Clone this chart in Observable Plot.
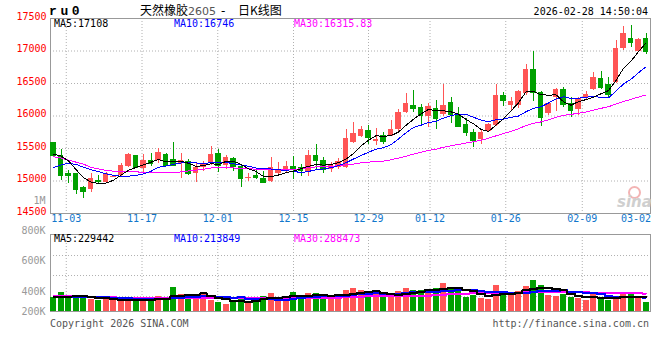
<!DOCTYPE html>
<html><head><meta charset="utf-8">
<script src="https://cdn.jsdelivr.net/npm/d3@7"></script>
<script src="https://cdn.jsdelivr.net/npm/@observablehq/plot@0.6"></script>
<style>
body{margin:0;background:#fff;}
#wrap{position:relative;width:660px;height:360px;overflow:hidden;background:#fff;font-family:"DejaVu Sans Mono",monospace;}
.abs{position:absolute;white-space:nowrap;line-height:1;}
.mono{font-family:"DejaVu Sans Mono",monospace;font-size:10px;}
#mainBox,#volBox{position:absolute;left:0;}
#mainBox{top:0;} #volBox{top:190px;}
</style></head><body>
<div id="wrap">
  <div id="mainBox"></div>
  <div id="volBox"></div>
  <div class="abs" id="code" style="left:49px;top:4px;font:bold 13px 'Liberation Mono',monospace;letter-spacing:3.6px;color:#000;"></div>
  <div class="abs" id="t1" style="left:140px;top:4px;font-size:12px;font-family:'Noto Sans CJK SC';color:#000;"></div>
  <div class="abs" id="t2" style="left:188px;top:6px;font-size:11px;font-family:'DejaVu Sans';color:#555;"></div>
  <div class="abs" style="left:221px;top:5px;font-size:12px;font-family:'DejaVu Sans';color:#000;">-</div>
  <div class="abs" id="t3" style="left:238px;top:4px;font-size:12px;font-family:'Noto Sans CJK SC';color:#000;"></div>
  <div class="abs mono" id="stamp" style="right:12px;top:7px;color:#000;"></div>
  <div class="abs mono" id="lg5" style="left:54px;top:19px;color:#000;"></div>
  <div class="abs mono" id="lg10" style="left:174px;top:19px;color:#0000ff;"></div>
  <div class="abs mono" id="lg30" style="left:294px;top:19px;color:#ff00ff;"></div>
  <div class="abs mono" id="vlg5" style="left:54px;top:234px;color:#000;"></div>
  <div class="abs mono" id="vlg10" style="left:174px;top:234px;color:#0000ff;"></div>
  <div class="abs mono" id="vlg30" style="left:294px;top:234px;color:#ff00ff;"></div>
  <div class="abs mono" id="copy" style="left:50px;top:319px;color:#555;"></div>
  <div class="abs mono" id="url" style="right:11px;top:319px;color:#555;"></div>
  <div class="abs" style="left:628px;top:186px;width:9px;height:9px;border:2px solid #f3b4b4;border-radius:50%;"></div>
  <div class="abs" id="wm" style="left:617px;top:193px;font:italic bold 15px 'DejaVu Sans';color:#cfcfcf;"></div>
</div>
<script>
// ---------- data ----------
const opens = [15595,15400,15118,15108,14905,14862,15015,14974,15060,15082,
15220,15385,15195,15323,15312,15415,15333,15262,15297,15118,
15205,15272,15426,15246,15350,15220,15050,15092,15041,14989,
15118,15143,15220,15205,15143,15385,15323,15180,15211,15215,
15589,15682,15770,15610,15705,15692,15785,16051,16158,16128,
15990,16118,16026,16210,16015,15862,15749,15631,15758,15851,
16308,16169,16169,16349,16723,16354,16046,16277,16405,16185,
16097,16266,16405,16570,16482,16518,17031,17200,16995,17189];
const highs = [15600,15477,15169,15120,14910,15118,15082,15128,15085,15272,
15426,15400,15415,15426,15503,15426,15590,15426,15338,15272,
15297,15528,15477,15385,15360,15235,15118,15169,15143,15358,
15288,15297,15374,15257,15466,15554,15364,15282,15350,15800,
15897,15835,15860,15810,15740,15938,16103,16349,16400,16170,
16195,16246,16492,16282,16128,15965,15800,15770,15888,16488,
16358,16282,16400,16795,16995,16370,16215,16420,16431,16277,
16277,16380,16662,16688,16595,17165,17380,17400,17185,17262];
const lows = [15390,15015,14965,14795,14725,14826,14954,14954,15050,15066,
15210,15195,15128,15220,15272,15230,15230,15041,15092,14980,
15143,15246,15128,15180,15143,14897,15000,15030,14965,14980,
15092,15118,15026,15066,15066,15180,15118,15128,15180,15200,
15580,15672,15554,15540,15554,15680,15760,16040,16051,15835,
15820,15785,15990,15888,15820,15682,15512,15565,15750,15835,
16143,16092,16118,16323,16226,15842,16011,16062,16134,15980,
16011,16250,16390,16405,16277,16497,17005,17057,16985,16943];
const closes = [15400,15082,15092,14862,14835,15042,14985,15118,15075,15235,
15411,15205,15323,15272,15441,15235,15246,15323,15118,15211,
15272,15415,15246,15365,15220,15041,15056,15051,14974,15211,
15169,15230,15180,15154,15400,15308,15180,15235,15297,15657,
15734,15785,15666,15640,15605,15795,16057,16185,16108,16015,
16143,15965,16169,16026,15835,15743,15620,15749,15862,16323,
16235,16220,16374,16708,16354,15980,16185,16405,16174,16082,
16262,16338,16585,16442,16328,17046,17266,17134,17174,16995];
// volume in thousands of lots
const volumesK = [225,298,209,236,236,188,173,188,188,188,
188,173,199,173,241,188,382,267,251,236,
283,173,147,110,136,236,136,199,236,283,
199,199,298,199,283,283,251,225,225,330,
366,330,293,262,225,225,314,366,330,330,
330,366,440,345,345,225,251,209,188,408,
293,251,314,393,487,408,251,241,267,225,
209,173,277,209,173,241,262,262,225,147];
// moving-average values before a full window is visible
const ma5Head = [15415,15385,15310,15175];
const ma10Head = [15205,15246,15272,15256,15210,15174,15143,15112,15087];
const ma30Head = [15374,15355,15320,15290,15260,15210,15185,15165,15150,15143,15140,15140,15135,15130,15128,15128,15125,15140,15155,15168,15180,15200,15205,15205,15200,15195,15190,15180,15172];
const volMa5HeadK = [228,232,235,238];
const volMa10HeadK = [230,232,233,232,230,228,225,222,218];
const volMa30HeadK = [236,236,236,236,236,231,226,222,220,218,216,214,212,210,209,208,208,209,210,211,212,212,211,210,210,210,211,212,212];
// axes
const priceTicks = [17500,17000,16500,16000,15500,15000,14500];
const priceGrid = [17000,16500,16000,15500,15000];
const dateTickPos = [1.7,11.8,21.9,32,42,50.2,60.3,70.5];
const dateTickLabels = ["11-03","11-17","12-01","12-15","12-29","01-12","01-26","02-09"];
const lastDateLabel = "03-02";
const volTickValues = [1743000,1272000,801000,314000,0];
const volTickLabels = ["1M","800K","600K","400K","200K"];
const volGrid = [879000,565000,236000];
// texts
const codeText = "ru0";
const titleName = "天然橡胶", titleContract = "2605", titleKind = "日K线图";
const stampText = "2026-02-28 14:50:04";
const maLegend = ["MA5:17108","MA10:16746","MA30:16315.83"];
const volLegend = ["MA5:229442","MA10:213849","MA30:288473"];
const copyText = "Copyright 2026 SINA.COM", urlText = "http://finance.sina.com.cn", wmText = "sina";

// ---------- build ----------
const RED = "#ff5555", GREEN = "#00a000", BLUE_T = "#1177cc";
const N = closes.length;
const idx = d3.range(N);
const candles = idx.map(i => ({i, open: opens[i], high: highs[i], low: lows[i], close: closes[i], vol: volumesK[i]*1000}));
const col = d => d.close >= d.open ? RED : GREEN;
function movingAvg(values, n, head){
  return values.map((v,i) => i < n-1 ? head[i] : d3.mean(values.slice(i-n+1, i+1)));
}
const rows = arr => idx.map(i => ({i, v: arr[i]}));
const ma5 = rows(movingAvg(closes,5,ma5Head));
const ma10 = rows(movingAvg(closes,10,ma10Head));
const ma30 = rows(movingAvg(closes,30,ma30Head));
const vma5 = rows(movingAvg(volumesK,5,volMa5HeadK).map(v=>v*1000));
const vma10 = rows(movingAvg(volumesK,10,volMa10HeadK).map(v=>v*1000));
const vma30 = rows(movingAvg(volumesK,30,volMa30HeadK).map(v=>v*1000));

const grid = {stroke:"#b0b0b0", strokeDasharray:"1,2"};
const style = {fontFamily:"'DejaVu Sans Mono', monospace", fontSize:"10px", background:"transparent", overflow:"visible"};
const xScale = {domain:[-0.4, N-0.4], axis:null};
const dateTicks = dateTickPos.map((p,k)=>({pos:p, label:dateTickLabels[k]}));

const main = Plot.plot({
  width:660, height:232, marginLeft:50, marginRight:10, marginTop:18, marginBottom:19,
  x: xScale,
  y: {domain:[14500,17500], axis:null},
  color: {type:"identity"},
  style,
  marks: [
    Plot.ruleY(priceGrid, grid),
    Plot.ruleX(dateTickPos, grid),
    Plot.frame({stroke:"#999"}),
    Plot.ruleX(candles, {x:"i", y1:"low", y2:"high", stroke:col, shapeRendering:"crispEdges"}),
    Plot.rect(candles, {x1:d=>d.i-0.37, x2:d=>d.i+0.37, y1:"open", y2:"close", fill:col, shapeRendering:"crispEdges"}),
    Plot.ruleY(candles, {x1:d=>d.i-0.37, x2:d=>d.i+0.37, y:"close", stroke:col, shapeRendering:"crispEdges"}),
    Plot.line(ma30, {x:"i", y:"v", stroke:"#ff00ff", strokeWidth:1, shapeRendering:"crispEdges"}),
    Plot.line(ma10, {x:"i", y:"v", stroke:"#0000ff", strokeWidth:1, shapeRendering:"crispEdges"}),
    Plot.line(ma5, {x:"i", y:"v", stroke:"#000", strokeWidth:1, shapeRendering:"crispEdges"}),
    Plot.text(priceTicks, {y:d=>d, text:d=>String(d), frameAnchor:"left", textAnchor:"end", dx:-4, dy:-2, fill:"#ff0000"}),
    Plot.text(dateTicks, {x:"pos", text:"label", frameAnchor:"bottom", dy:8, fill:BLUE_T}),
    Plot.text([lastDateLabel], {x:()=>N-1, text:d=>d, frameAnchor:"bottom", dy:8, dx:5, textAnchor:"end", fill:BLUE_T})
  ]
});
document.getElementById("mainBox").appendChild(main);

const vol = Plot.plot({
  width:660, height:150, marginLeft:50, marginRight:10, marginTop:44, marginBottom:29,
  x: xScale,
  y: {domain:[0,1209000], axis:null},
  color: {type:"identity"},
  style,
  marks: [
    Plot.ruleY(volGrid, grid),
    Plot.ruleX(dateTickPos, grid),
    Plot.frame({stroke:"#999"}),
    Plot.rect(candles, {x1:d=>d.i-0.4, x2:d=>d.i+0.4, y1:0, y2:"vol", fill:col, shapeRendering:"crispEdges"}),
    Plot.line(vma30, {x:"i", y:"v", stroke:"#ff00ff", strokeWidth:2, curve:"step", shapeRendering:"crispEdges"}),
    Plot.line(vma10, {x:"i", y:"v", stroke:"#0000ff", strokeWidth:2, curve:"step", shapeRendering:"crispEdges"}),
    Plot.line(vma5, {x:"i", y:"v", stroke:"#000", strokeWidth:2, curve:"step", shapeRendering:"crispEdges"}),
    Plot.text(volTickValues, {y:d=>d, text:(d,k)=>volTickLabels[k], frameAnchor:"left", textAnchor:"end", dx:-5, fill:"#999"})
  ]
});
document.getElementById("volBox").appendChild(vol);

document.getElementById("code").textContent = codeText;
document.getElementById("t1").textContent = titleName;
document.getElementById("t2").textContent = titleContract;
document.getElementById("t3").textContent = titleKind;
document.getElementById("stamp").textContent = stampText;
document.getElementById("lg5").textContent = maLegend[0];
document.getElementById("lg10").textContent = maLegend[1];
document.getElementById("lg30").textContent = maLegend[2];
document.getElementById("vlg5").textContent = volLegend[0];
document.getElementById("vlg10").textContent = volLegend[1];
document.getElementById("vlg30").textContent = volLegend[2];
document.getElementById("copy").textContent = copyText;
document.getElementById("url").textContent = urlText;
document.getElementById("wm").textContent = wmText;
</script>
</body></html>
